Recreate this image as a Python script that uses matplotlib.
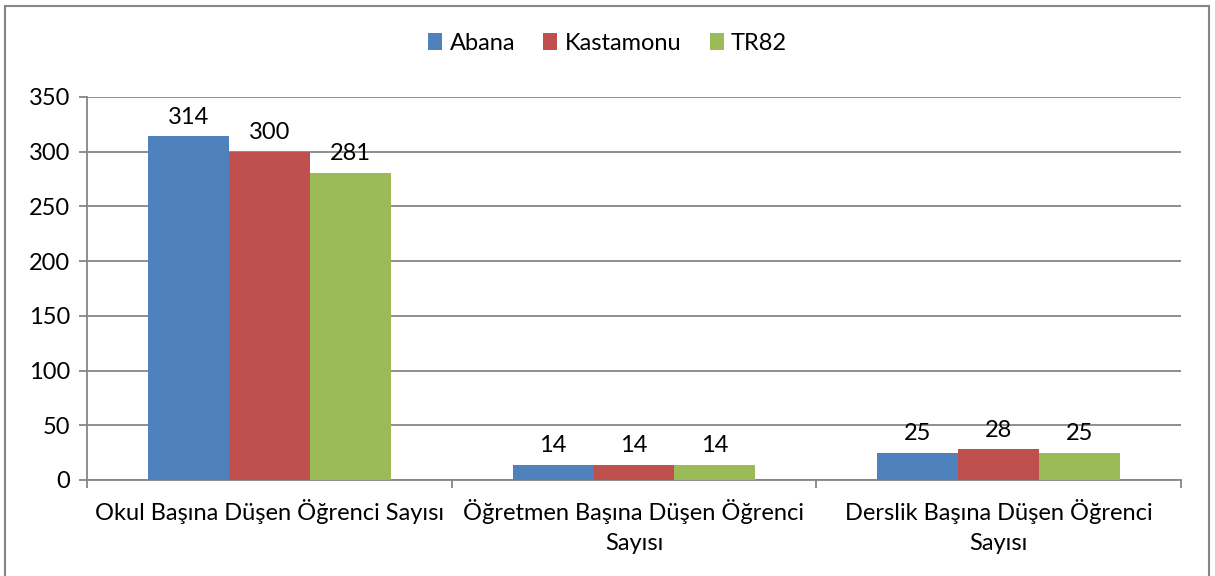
import matplotlib.pyplot as plt
import numpy as np
from matplotlib.patches import Rectangle

plt.rcParams['font.family'] = ['Lato', 'DejaVu Sans']

categories = ['Okul Başına Düşen Öğrenci Sayısı',
              'Öğretmen Başına Düşen Öğrenci\nSayısı',
              'Derslik Başına Düşen Öğrenci\nSayısı']
series_names = ['Abana', 'Kastamonu', 'TR82']
abana = [314, 14, 25]
kastamonu = [300, 14, 28]
tr82 = [281, 14, 25]
colors = ['#4F81BD', '#C0504D', '#9BBB59']

fig = plt.figure(figsize=(12.15, 5.76), dpi=100)
ax = fig.add_axes([0.0716, 0.1667, 0.9004, 0.6649])
fig.patches.append(Rectangle((0.004, -0.01), 0.991, 1.0, transform=fig.transFigure,
                             fill=False, edgecolor='#868686', linewidth=1.5))

x = np.arange(len(categories))
width = 0.222
for i, (name, vals) in enumerate(zip(series_names, [abana, kastamonu, tr82])):
    pos = x + (i - 1) * width
    bars = ax.bar(pos, vals, width, color=colors[i], label=name, zorder=3)
    for b, v in zip(bars, vals):
        ax.annotate(str(v), (b.get_x() + b.get_width() / 2, v), xytext=(0, 6),
                    textcoords='offset points', ha='center', va='bottom', fontsize=17)

ax.set_xlim(-0.5, 2.5)
ax.set_ylim(0, 350)
ax.set_yticks(range(0, 351, 50))
ax.yaxis.grid(True, color='#868686', linewidth=1.3, zorder=0)
ax.set_xticks(x)
ax.set_xticklabels(categories, fontsize=17, linespacing=1.5)
ax.set_xticks([-0.5, 0.5, 1.5, 2.5], minor=True)
ax.tick_params(axis='x', which='major', length=0, pad=14)
ax.tick_params(axis='x', which='minor', length=6, color='#868686', width=1.3)
ax.tick_params(axis='y', length=6, color='#868686', width=1.3, labelsize=17, pad=6)
for s in ['top', 'right']:
    ax.spines[s].set_visible(False)
for s in ['left', 'bottom']:
    ax.spines[s].set_color('#868686')
    ax.spines[s].set_linewidth(1.3)

fig.legend(loc='center', bbox_to_anchor=(0.5, 0.925), ncol=3, frameon=False,
           fontsize=17, handlelength=0.6, handleheight=0.7, handletextpad=0.3,
           columnspacing=1.2)

fig.savefig('out.png', dpi=100)
